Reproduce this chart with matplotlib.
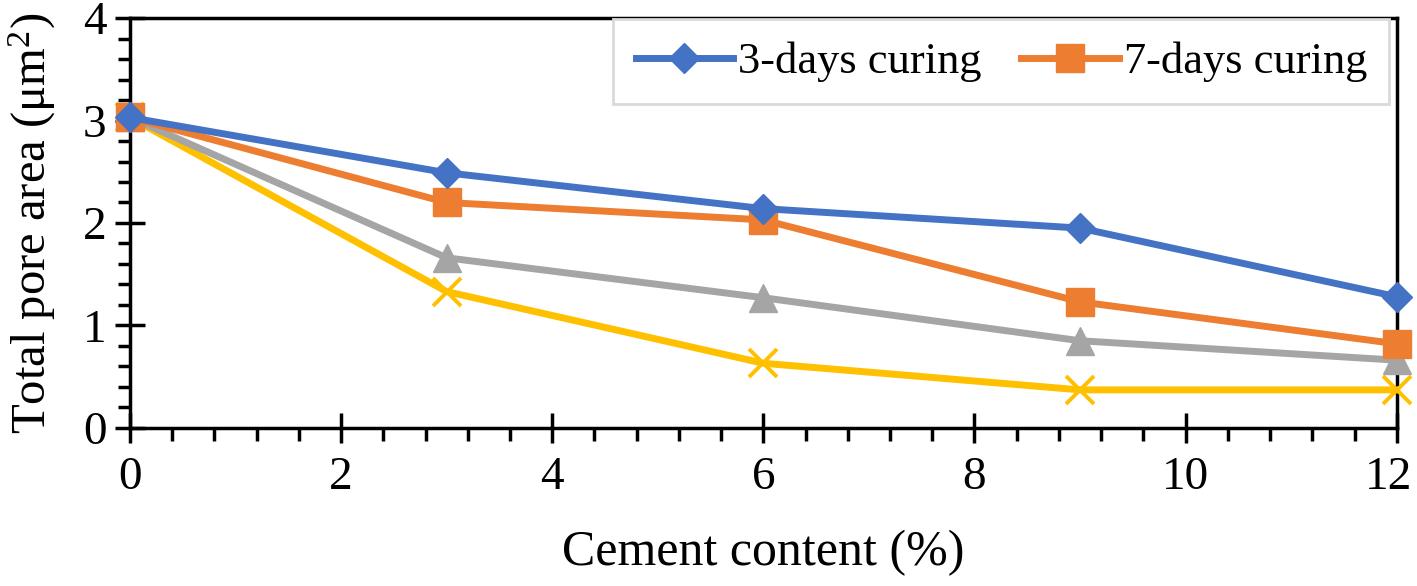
import matplotlib.pyplot as plt
from matplotlib.ticker import MultipleLocator
from matplotlib.transforms import ScaledTranslation

# data
cement = [0, 3, 6, 9, 12]
days3 = [3.03, 2.49, 2.14, 1.95, 1.28]
days7 = [3.03, 2.20, 2.03, 1.23, 0.82]
days14 = [3.03, 1.66, 1.27, 0.85, 0.66]
days28 = [3.03, 1.33, 0.63, 0.37, 0.37]

plt.rcParams['font.family'] = ['Liberation Serif', 'DejaVu Serif']
plt.rcParams['mathtext.fontset'] = 'custom'
plt.rcParams['mathtext.rm'] = 'Liberation Serif'

fig = plt.figure(figsize=(14.17, 5.86), dpi=100)
ax = fig.add_axes([0.0917, 0.270, 0.894, 0.699])

lw = 5
ax.plot(cement, days28, color='#FFC000', lw=lw, marker='x', ms=20, mew=2.8, clip_on=False, zorder=3)
ax.plot(cement, days14, color='#A5A5A5', lw=lw, marker='^', ms=20, clip_on=False, zorder=4)
l7, = ax.plot(cement, days7, color='#ED7D31', lw=lw, marker='s', ms=20, clip_on=False, zorder=5,
              label='7-days curing')
l3, = ax.plot(cement, days3, color='#4472C4', lw=lw, marker='D', ms=15, clip_on=False, zorder=6,
              label='3-days curing')

ax.set_xlim(0, 12)
ax.set_ylim(0, 4)
ax.xaxis.set_major_locator(MultipleLocator(2))
ax.xaxis.set_minor_locator(MultipleLocator(0.4))
ax.yaxis.set_major_locator(MultipleLocator(1))
ax.yaxis.set_minor_locator(MultipleLocator(0.2))

for s in ax.spines.values():
    s.set_linewidth(2.5)
ax.tick_params(which='major', direction='inout', length=22, width=2.5, labelsize=34, pad=10)
ax.tick_params(which='minor', direction='out', length=9, width=2.5)
ax.tick_params(axis='y', which='major', pad=6)

ax.set_xlabel('Cement content (%)', fontsize=36, labelpad=22)
ax.set_ylabel(r'Total pore area ($\mathrm{\mu m^2}$)', fontsize=35, labelpad=18)

leg = ax.legend(handles=[l3, l7], loc='upper right', bbox_to_anchor=(0.994, 0.997), ncol=2,
                fontsize=32, frameon=True, fancybox=False, framealpha=1, edgecolor='#d9d9d9',
                handlelength=2.2, handletextpad=0.1, columnspacing=0.9, borderpad=0.5,
                borderaxespad=0)
leg.get_frame().set_linewidth(2)

# nudge the "12" a bit left so it stays inside the picture
fig.canvas.draw()
for t in ax.get_xticklabels():
    if t.get_text() == '12':
        t.set_transform(t.get_transform() + ScaledTranslation(-0.08, 0, fig.dpi_scale_trans))

fig.savefig('out.png', dpi=100)
